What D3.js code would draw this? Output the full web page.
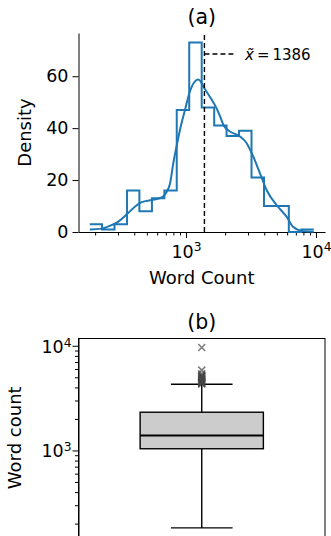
<!DOCTYPE html>
<html>
<head>
<meta charset="utf-8">
<script src="https://cdn.jsdelivr.net/npm/d3@7"></script>
<style>
  body { margin: 0; background: #fff; }
  text { font-family: "DejaVu Sans", sans-serif; fill: #000; }
</style>
</head>
<body>
<svg id="chart" width="331" height="536"></svg>
<script>
// histogram (log-spaced bins)
const binEdges = [182, 226, 282, 352, 438, 547, 682, 849, 1059, 1321, 1648, 2051, 2559, 3192, 3981, 4955, 6180, 7709, 9616];
const binCounts = [3, 1, 3, 16, 8, 13, 16, 47, 73, 48, 41, 37, 39, 21, 10, 10, 0, 1];

// kde curve, sampled by eye
const kdeX = [182, 225, 246, 300, 350, 418, 456, 545, 650, 711, 754, 799, 850, 900, 983, 1073, 1173, 1243, 1400, 1530, 1723, 1830, 1950, 2180, 2602, 2930, 3295, 3708, 4178, 4989, 5957, 6688, 7985, 9616];
const kdeY = [1.0, 1.3, 1.9, 3.9, 6.8, 10.3, 11.5, 12.3, 13.3, 15.5, 18.7, 26.5, 33.5, 39.5, 47.1, 54.2, 58.0, 58.7, 55.0, 52.0, 47.5, 44.5, 41.0, 38.7, 36.8, 34.2, 29.0, 22.6, 16.1, 10.3, 5.8, 1.9, 0.3, 0.1];

const medianWords = 1386;

// box plot stats
const boxQuartiles = [1038, 1386, 2318];
const boxWhiskers = [182, 4285];
const outliers = [4310, 4360, 4420, 4480, 4550, 4620, 4700, 4780, 4850, 4920, 5000, 5080, 5150, 5250, 5400, 5850, 9616];

const logMajor = [1000, 10000];
const logMinor = [200, 300, 400, 500, 600, 700, 800, 900, 2000, 3000, 4000, 5000, 6000, 7000, 8000, 9000];
const densityTicks = [0, 20, 40, 60];

const blue = "#1f77b4";
const tickFont = 17.5, labelFont = 18, titleFont = 20.5;
const svg = d3.select("#chart");
svg.append("rect").attr("width", 331).attr("height", 536).attr("fill", "#fff");

const left = 78.5, right = 325;
const wordDomain = [149, 11730];

function supLabel(sel, d) {
  sel.text(null);
  sel.append("tspan").text("10");
  sel.append("tspan").attr("dy", "-0.5em").attr("font-size", "0.7em").text(Math.round(Math.log10(d)));
}

// ---------- panel (a) ----------
const xA = d3.scaleLog().domain(wordDomain).range([left, right]);
const yA = d3.scaleLinear().domain([0, 76.65]).range([232, 33]);
const gA = svg.append("g");

// minor x ticks
gA.append("g")
  .attr("transform", "translate(0,232)")
  .call(d3.axisBottom(xA).tickValues(logMinor).tickSize(3.5).tickFormat(""))
  .call(g => g.select(".domain").remove());

const axA = gA.append("g")
  .attr("transform", "translate(0,232)")
  .call(d3.axisBottom(xA).tickValues(logMajor).tickSize(6).tickSizeOuter(0).tickFormat(""));
axA.selectAll(".tick text").remove();
axA.selectAll(".tick").append("text")
  .attr("y", 25.5)
  .attr("text-anchor", "middle")
  .attr("font-size", tickFont)
  .each(function (d) { supLabel(d3.select(this), d); });

gA.append("g")
  .attr("transform", `translate(${left},0)`)
  .call(d3.axisLeft(yA).tickValues(densityTicks).tickSize(6).tickPadding(4).tickSizeOuter(0))
  .call(g => g.selectAll("text").attr("font-size", tickFont).attr("font-family", "DejaVu Sans"));

// histogram step outline
const stepPts = [];
binCounts.forEach((c, i) => {
  stepPts.push([xA(binEdges[i]), yA(c)]);
  stepPts.push([xA(binEdges[i + 1]), yA(c)]);
});
gA.append("path")
  .attr("d", d3.line()(stepPts))
  .attr("fill", "none")
  .attr("stroke", blue)
  .attr("stroke-width", 2);

// kde
gA.append("path")
  .datum(kdeX.map((x, i) => [x, kdeY[i]]))
  .attr("d", d3.line().x(d => xA(d[0])).y(d => yA(d[1])).curve(d3.curveMonotoneX))
  .attr("fill", "none")
  .attr("stroke", blue)
  .attr("stroke-width", 2);

// median marker
gA.append("line")
  .attr("x1", xA(medianWords)).attr("x2", xA(medianWords))
  .attr("y1", yA(0)).attr("y2", yA.range()[1])
  .attr("stroke", "#000").attr("stroke-width", 1.4).attr("stroke-dasharray", "5,3");
gA.append("line")
  .attr("x1", xA(medianWords)).attr("x2", xA(medianWords) + 29)
  .attr("y1", 54).attr("y2", 54)
  .attr("stroke", "#000").attr("stroke-width", 1.4).attr("stroke-dasharray", "5,3");
const ann = gA.append("text").attr("x", 245).attr("y", 59.5).attr("font-size", 15);
ann.append("tspan").attr("font-style", "italic").text("x\u0303");
ann.append("tspan").text("\u2009=\u20091386");

gA.append("text").attr("x", (left + right) / 2).attr("y", 24)
  .attr("text-anchor", "middle").attr("font-size", titleFont).text("(a)");
gA.append("text").attr("x", (left + right) / 2).attr("y", 283.5)
  .attr("text-anchor", "middle").attr("font-size", labelFont).text("Word Count");
gA.append("text").attr("transform", `translate(31,${(33 + 232) / 2}) rotate(-90)`)
  .attr("text-anchor", "middle").attr("font-size", labelFont).text("Density");

// ---------- panel (b) ----------
const topB = 338.5, bottomB = 537;
const xB = d3.scaleLinear().domain([-0.5, 0.5]).range([left, right]);
const yB = d3.scaleLog().domain(wordDomain).range([bottomB, topB]);
const gB = svg.append("g");

gB.append("g")
  .attr("transform", `translate(${left},0)`)
  .call(d3.axisLeft(yB).tickValues(logMinor).tickSize(3.5).tickFormat(""))
  .call(g => g.select(".domain").remove());
const ayB = gB.append("g")
  .attr("transform", `translate(${left},0)`)
  .call(d3.axisLeft(yB).tickValues(logMajor).tickSize(6).tickSizeOuter(0).tickFormat(""));
ayB.selectAll(".tick text").remove();
ayB.selectAll(".tick").append("text")
  .attr("x", -7)
  .attr("y", 6.5)
  .attr("text-anchor", "end")
  .attr("font-size", tickFont)
  .each(function (d) { supLabel(d3.select(this), d); });

gB.append("rect")
  .attr("x", left).attr("y", topB)
  .attr("width", right - left).attr("height", bottomB - topB)
  .attr("fill", "none").attr("stroke", "#000").attr("stroke-width", 1);

svg.selectAll(".domain, .tick line").attr("stroke", "#000").attr("stroke-width", 1);

// whiskers
gB.append("line")
  .attr("x1", xB(0)).attr("x2", xB(0))
  .attr("y1", yB(boxWhiskers[0])).attr("y2", yB(boxQuartiles[0]))
  .attr("stroke", "#000").attr("stroke-width", 1.4);
gB.append("line")
  .attr("x1", xB(0)).attr("x2", xB(0))
  .attr("y1", yB(boxQuartiles[2])).attr("y2", yB(boxWhiskers[1]))
  .attr("stroke", "#000").attr("stroke-width", 1.4);
gB.selectAll(".cap").data(boxWhiskers).join("line")
  .attr("x1", xB(-0.125)).attr("x2", xB(0.125))
  .attr("y1", d => yB(d)).attr("y2", d => yB(d))
  .attr("stroke", "#000").attr("stroke-width", 1.4);

gB.append("rect")
  .attr("x", xB(-0.25)).attr("width", xB(0.25) - xB(-0.25))
  .attr("y", yB(boxQuartiles[2])).attr("height", yB(boxQuartiles[0]) - yB(boxQuartiles[2]))
  .attr("fill", "#cccccc").attr("stroke", "#000").attr("stroke-width", 1.4);
gB.append("line")
  .attr("x1", xB(-0.25)).attr("x2", xB(0.25))
  .attr("y1", yB(boxQuartiles[1])).attr("y2", yB(boxQuartiles[1]))
  .attr("stroke", "#000").attr("stroke-width", 2);

// outliers as x markers
const m = 3.5;
gB.selectAll(".flier").data(outliers).join("path")
  .attr("d", d => `M${xB(0) - m},${yB(d) - m}L${xB(0) + m},${yB(d) + m}M${xB(0) - m},${yB(d) + m}L${xB(0) + m},${yB(d) - m}`)
  .attr("stroke", "#444").attr("stroke-opacity", 0.7).attr("stroke-width", 1.5);

gB.append("text").attr("x", (left + right) / 2).attr("y", 329)
  .attr("text-anchor", "middle").attr("font-size", titleFont).text("(b)");
gB.append("text").attr("transform", `translate(21,${(topB + bottomB) / 2}) rotate(-90)`)
  .attr("text-anchor", "middle").attr("font-size", labelFont).text("Word count");
</script>
</body>
</html>
